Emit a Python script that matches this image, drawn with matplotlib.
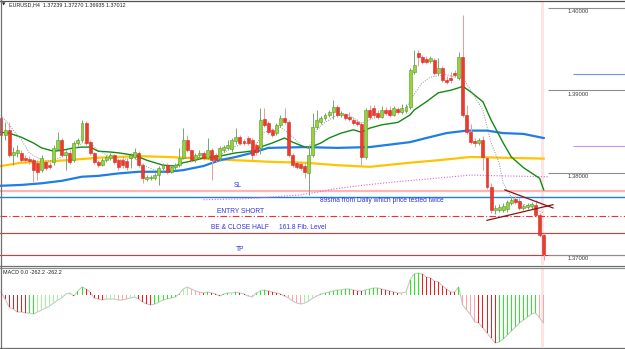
import matplotlib
matplotlib.use('Agg')
import matplotlib.pyplot as plt
import numpy as np

plt.rcParams['font.family'] = ['Liberation Sans', 'DejaVu Sans']

# EURUSD H4 candles
opens = [1.3866, 1.3846, 1.3852, 1.3821, 1.3824, 1.3824, 1.3818, 1.3817, 1.3815, 1.3812,
         1.3803, 1.3813, 1.3809, 1.3813, 1.3829, 1.3840, 1.3821, 1.3824, 1.3815, 1.3836,
         1.3840, 1.3860, 1.3837, 1.3824, 1.3813, 1.3809, 1.3815, 1.3818, 1.3821, 1.3815,
         1.3815, 1.3814, 1.3818, 1.3819, 1.3824, 1.3809, 1.3792, 1.3793, 1.3794, 1.3797,
         1.3806, 1.3809, 1.3801, 1.3807, 1.3809, 1.3818, 1.3840, 1.3827, 1.3816, 1.3821,
         1.3824, 1.3818, 1.3827, 1.3821, 1.3818, 1.3827, 1.3830, 1.3829, 1.3838, 1.3843,
         1.3838, 1.3842, 1.3840, 1.3834, 1.3830, 1.3865, 1.3860, 1.3852, 1.3848, 1.3858,
         1.3866, 1.3861, 1.3821, 1.3812, 1.3810, 1.3808, 1.3800, 1.3821, 1.3855, 1.3862,
         1.3866, 1.3870, 1.3874, 1.3880, 1.3870, 1.3871, 1.3867, 1.3864, 1.3862, 1.3859,
         1.3819, 1.3876, 1.3878, 1.3872, 1.3868, 1.3876, 1.3876, 1.3870, 1.3877, 1.3874,
         1.3875, 1.3880, 1.3922, 1.3945, 1.3940, 1.3938, 1.3935, 1.3937, 1.3921, 1.3927,
         1.3913, 1.3915, 1.3921, 1.3915, 1.3941, 1.3870, 1.3849, 1.3838, 1.3836, 1.3840,
         1.3818, 1.3782, 1.3754, 1.3755, 1.3755, 1.3756, 1.3763, 1.3768, 1.3765, 1.3757,
         1.3758, 1.3759, 1.3761, 1.3749, 1.37239]
closes = [1.3846, 1.3852, 1.3821, 1.3825, 1.3827, 1.3815, 1.3815, 1.3814, 1.3803, 1.3801,
          1.3818, 1.3806, 1.3807, 1.3830, 1.3840, 1.3821, 1.3825, 1.3813, 1.3836, 1.3840,
          1.3860, 1.3836, 1.3824, 1.3813, 1.3809, 1.3815, 1.3819, 1.3821, 1.3813, 1.3807,
          1.3809, 1.3807, 1.3821, 1.3825, 1.3809, 1.3793, 1.3795, 1.3795, 1.3797, 1.3806,
          1.3809, 1.3801, 1.3807, 1.3809, 1.3818, 1.3840, 1.3827, 1.3815, 1.3821, 1.3824,
          1.3818, 1.3827, 1.3815, 1.3815, 1.3830, 1.3831, 1.3834, 1.3840, 1.3843, 1.3836,
          1.3836, 1.3836, 1.3821, 1.3825, 1.3864, 1.3858, 1.3849, 1.3846, 1.3858, 1.3866,
          1.3861, 1.3821, 1.3809, 1.3807, 1.3806, 1.3801, 1.3821, 1.3855, 1.3864, 1.3866,
          1.3870, 1.3874, 1.3880, 1.3870, 1.3872, 1.3866, 1.3865, 1.3860, 1.3859, 1.3819,
          1.3876, 1.3868, 1.3870, 1.3868, 1.3876, 1.3872, 1.3870, 1.3878, 1.3874, 1.3878,
          1.3880, 1.3925, 1.3931, 1.3940, 1.3934, 1.3934, 1.3939, 1.3921, 1.3927, 1.3913,
          1.3910, 1.3912, 1.3919, 1.3940, 1.3870, 1.3849, 1.3837, 1.3836, 1.3840, 1.3819,
          1.3782, 1.3755, 1.3757, 1.3758, 1.3759, 1.3764, 1.3767, 1.3764, 1.3757, 1.3759,
          1.3761, 1.3762, 1.3749, 1.3724, 1.37012]
highs = [1.3874, 1.3861, 1.3861, 1.3831, 1.3834, 1.3827, 1.3821, 1.3820, 1.3818, 1.3815,
         1.3821, 1.3815, 1.3813, 1.3834, 1.3849, 1.3842, 1.3827, 1.3827, 1.3838, 1.3842,
         1.3864, 1.3863, 1.3840, 1.3825, 1.3815, 1.3818, 1.3821, 1.3824, 1.3822, 1.3818,
         1.3820, 1.3818, 1.3824, 1.3830, 1.3826, 1.3812, 1.3797, 1.3797, 1.3800, 1.3808,
         1.3812, 1.3812, 1.3809, 1.3812, 1.3830, 1.3854, 1.3846, 1.3828, 1.3824, 1.3827,
         1.3826, 1.3842, 1.3830, 1.3824, 1.3832, 1.3834, 1.3840, 1.3842, 1.3854, 1.3846,
         1.3841, 1.3844, 1.3842, 1.3836, 1.3878, 1.3878, 1.3863, 1.3854, 1.3860, 1.3870,
         1.3878, 1.3864, 1.3824, 1.3814, 1.3813, 1.3812, 1.3834, 1.3872, 1.3876, 1.3869,
         1.3872, 1.3876, 1.3888, 1.3882, 1.3875, 1.3872, 1.3874, 1.3866, 1.3865, 1.3861,
         1.3878, 1.3882, 1.3882, 1.3876, 1.3881, 1.3880, 1.3881, 1.3881, 1.3880, 1.3883,
         1.3883, 1.3927, 1.3949, 1.3949, 1.3943, 1.3942, 1.3942, 1.3939, 1.3939, 1.3930,
         1.3917, 1.3922, 1.3925, 1.3947, 1.3992, 1.3882, 1.3859, 1.3842, 1.3842, 1.3844,
         1.3819, 1.3787, 1.3761, 1.3762, 1.3763, 1.3767, 1.3772, 1.3772, 1.3769, 1.3762,
         1.3763, 1.3764, 1.3767, 1.3751, 1.37270]
lows = [1.3842, 1.3840, 1.3819, 1.3809, 1.3819, 1.3813, 1.3812, 1.3810, 1.3789, 1.3791,
        1.3801, 1.3803, 1.3804, 1.3809, 1.3827, 1.3819, 1.3803, 1.3810, 1.3813, 1.3834,
        1.3837, 1.3834, 1.3821, 1.3810, 1.3807, 1.3808, 1.3813, 1.3815, 1.3810, 1.3803,
        1.3806, 1.3803, 1.3806, 1.3817, 1.3807, 1.3787, 1.3790, 1.3791, 1.3791, 1.3785,
        1.3803, 1.3798, 1.3800, 1.3803, 1.3807, 1.3816, 1.3825, 1.3813, 1.3813, 1.3817,
        1.3815, 1.3816, 1.3791, 1.3813, 1.3814, 1.3825, 1.3827, 1.3825, 1.3835, 1.3834,
        1.3834, 1.3834, 1.3815, 1.3821, 1.3822, 1.3855, 1.3847, 1.3843, 1.3846, 1.3855,
        1.3859, 1.3819, 1.3807, 1.3804, 1.3803, 1.3793, 1.3773, 1.3819, 1.3853, 1.3859,
        1.3864, 1.3868, 1.3865, 1.3868, 1.3868, 1.3864, 1.3863, 1.3858, 1.3857, 1.3809,
        1.3817, 1.3865, 1.3868, 1.3865, 1.3866, 1.3870, 1.3868, 1.3869, 1.3871, 1.3871,
        1.3872, 1.3877, 1.3920, 1.3930, 1.3932, 1.3932, 1.3933, 1.3919, 1.3919, 1.3910,
        1.3908, 1.3909, 1.3916, 1.3913, 1.3868, 1.3847, 1.3835, 1.3831, 1.3834, 1.3803,
        1.3780, 1.3751, 1.3750, 1.3752, 1.3752, 1.3752, 1.3761, 1.3762, 1.3755, 1.3755,
        1.3756, 1.3756, 1.3746, 1.3722, 1.36935]

# moving averages, read at a few bars (bar index, price)
ma_green_x = [0, 2, 5, 8, 10, 13, 15, 18, 20, 22, 24, 27, 29, 33, 36, 38, 40, 43, 45, 48, 50, 53,
              55, 58, 60, 63, 64, 67, 70, 72, 75, 76, 79, 81, 84, 87, 89, 91, 94, 98, 101, 102,
              105, 108, 111, 113, 114, 116, 119, 121, 124, 126, 129, 133, 134]
ma_green_y = [1.3849, 1.3848, 1.3843, 1.3836, 1.3830, 1.3826, 1.3827, 1.3830, 1.3831, 1.3831,
              1.3826, 1.3825, 1.3824, 1.3821, 1.3815, 1.3812, 1.3809, 1.3808, 1.3812, 1.3815,
              1.3818, 1.3819, 1.3821, 1.3824, 1.3825, 1.3827, 1.3831, 1.3836, 1.3842, 1.3837,
              1.3831, 1.3830, 1.3836, 1.3842, 1.3848, 1.3852, 1.3849, 1.3854, 1.3858, 1.3861,
              1.3870, 1.3876, 1.3886, 1.3897, 1.3900, 1.3903, 1.3905, 1.3898, 1.3886, 1.3864,
              1.3836, 1.3819, 1.3806, 1.3793, 1.3779]
ma_fast_x = [0, 2, 5, 7, 10, 12, 15, 17, 20, 22, 24, 27, 29, 33, 35, 38, 40, 43, 45, 48, 50, 54,
             57, 60, 63, 65, 67, 69, 71, 74, 76, 78, 80, 83, 86, 89, 93, 96, 100, 101, 104, 106,
             110, 112, 114, 116, 119, 121, 123, 124, 126, 128, 131, 134]
ma_fast_y = [1.3870, 1.3858, 1.3840, 1.3824, 1.3815, 1.3814, 1.3819, 1.3824, 1.3836, 1.3836,
             1.3827, 1.3819, 1.3815, 1.3818, 1.3809, 1.3803, 1.3801, 1.3806, 1.3818, 1.3818,
             1.3819, 1.3821, 1.3830, 1.3836, 1.3834, 1.3849, 1.3852, 1.3855, 1.3848, 1.3834,
             1.3830, 1.3852, 1.3861, 1.3870, 1.3870, 1.3860, 1.3868, 1.3872, 1.3876, 1.3888,
             1.3909, 1.3916, 1.3919, 1.3916, 1.3915, 1.3900, 1.3876, 1.3836, 1.3812, 1.3787,
             1.3770, 1.3763, 1.3758, 1.3751]
ma_blue_x = [0, 5, 10, 15, 20, 24, 29, 34, 41, 45, 50, 54, 58, 62, 66, 75, 83, 91, 96, 101, 105,
             110, 115, 120, 124, 129, 134]
ma_blue_y = [1.3784, 1.3785, 1.3787, 1.3790, 1.3795, 1.3796, 1.3799, 1.3801, 1.3801, 1.3803,
             1.3808, 1.3815, 1.3819, 1.3824, 1.3830, 1.3831, 1.3830, 1.3831, 1.3834, 1.3837,
             1.3842, 1.3848, 1.3851, 1.3851, 1.3848, 1.3847, 1.3842]
ma_gold_x = [0, 5, 10, 16, 24, 34, 41, 50, 58, 67, 75, 83, 91, 101, 108, 116, 124, 134]
ma_gold_y = [1.3808, 1.3812, 1.3813, 1.3815, 1.3818, 1.3820, 1.3819, 1.3817, 1.3815, 1.3813,
             1.3812, 1.3809, 1.3807, 1.3812, 1.3815, 1.3819, 1.3818, 1.3817]
ma_pink_x = [50, 59, 66, 74, 79, 82, 90, 98, 107, 116, 124, 135]
ma_pink_y = [1.3767, 1.3768, 1.3770, 1.3773, 1.3777, 1.3780, 1.3785, 1.3789, 1.3793, 1.3797,
             1.3796, 1.3795]

# drawn levels
sl_level = 1.3778
daily_sma89 = 1.3770
entry_level = 1.3747
be_level = 1.3727
tp_level = 1.3700
side_levels = [1.3920, 1.3832]
price_ticks = [1.40, 1.39, 1.38, 1.37]
tri_upper = ([124.4, 136.3], [1.3779, 1.3757])
tri_lower = ([120.0, 136.3], [1.3742, 1.3761])

# MACD histogram (same value drawn as line), colour code per bar
macd_vals = [3, -4, -12, -14, -17, -17, -18, -18, -19, -17, -15, -13, -11, -8, -5, -3, 1, 2, -1, 4,
             8, 6, 3, -3, -4, -5, -4, -4, -4, -5, -5, -4, -3, -2, -4, -7, -9, -10, -9, -7,
             -5, -4, -3, -2, 1, 6, 8, 6, 4, 3, 2, 3,
             2, 1, -1, 1, 2, 2, 3, 2, 1, -1, -2,
             2, 4, 5, 4, 3, 2, 1, -1,
             -3, -6, -8, -9, -8, -6, -3, -1,
             1, 2, 3, 4, 5, 5, 6, 6, 5, 4, 4, 5, 6, 7, 7, 6, 5, 4, 3, 2,
             2, 3, 15, 21, 22, 21, 18, 17, 14, 13, 9, 6, 3, 3, 8, -10, -15, -20, -27, -28,
             -33, -38, -43, -48, -47, -44, -40, -36, -32, -28, -25, -22, -19, -18, -23, -28]
macd_cols = ('p' + 'rrrrrr' + 'gg' + 'lllllllll' + 'r' + 'gg' + 'rrrrr' + 'lll' + 'ppp' + 'll'
             + 'rrrr' + 'ggggggg' + 'll' + 'ppp' + 'r' + 'g'
             + 'rrrgglgrrpp' + 'gggrrrrr' + 'ppppllll' + 'ggggggggrrrggggrrrrr'
             + 'p' + 'l' + 'ggg' + 'rrrrrrrrr' + 'g' + 'pppp' + 'rrrrr' + 'gggggggggg' + 'pp')

W, H = 625, 349
step = 4.05   # pixels per bar


def box(x0, y0, x1, y1):
    return [x0 / W, 1 - y1 / H, (x1 - x0) / W, (y1 - y0) / H]


fig = plt.figure(figsize=(6.25, 3.49), dpi=100)
fig.patch.set_facecolor('white')
ax = fig.add_axes(box(0, 2, 625, 265))
mx = fig.add_axes(box(0, 268, 625, 347))
for a in (ax, mx):
    a.set_xlim(-1 / step, (W - 1) / step)
    a.set_xticks([])
    a.set_yticks([])
    for s in a.spines.values():
        s.set_visible(False)

ax.set_ylim(1.40097 - 0.0001215 * 265, 1.40097 - 0.0001215 * 2)
mx.set_ylim(-52, 27)

o = np.array(opens)
c = np.array(closes)
h = np.array(highs)
l = np.array(lows)
idx = np.arange(len(o))
up = c >= o

# vertical time line
for a in (ax, mx):
    a.axvline(133.6, color='#ffe4e4', lw=2.2, zorder=0)

# levels
ax.axhline(sl_level, color='#ffb4b4', lw=1.6, zorder=1)
ax.axhline(daily_sma89, color='#1e7ee6', lw=1.0, zorder=1)
ax.axhline(entry_level, color='#ee3030', lw=0.8, ls=(0, (6, 2, 1, 2)), zorder=1)
ax.axhline(be_level, color='#ee3030', lw=0.8, zorder=1)
ax.axhline(tp_level, color='#ee3030', lw=0.8, zorder=1)
ax.hlines(side_levels, 141.2, (W - 1) / step, colors=['#7090f0', '#d090f0'], lw=0.8)
ax.hlines(price_ticks, (548 - 1) / step, (W - 1) / step, colors='#8a9090', lw=0.8, zorder=1)
for p in price_ticks:
    ax.text(140.0, p - 4 * 0.0001215, '%.5f' % p, fontsize=4.2, color='#404040',
            va='center', ha='left')

# moving averages
ax.plot(ma_gold_x, ma_gold_y, color='#ffc400', lw=1.6, zorder=2)
ax.plot(ma_blue_x, ma_blue_y, color='#1e7ee6', lw=1.6, zorder=2)
ax.plot(ma_pink_x, ma_pink_y, color='#e060e0', lw=0.8, ls=(0, (1, 1.5)), zorder=2)
ax.plot(ma_green_x, ma_green_y, color='#138a13', lw=1.0, zorder=2)
ax.plot(ma_fast_x, ma_fast_y, color='#909090', lw=0.7, ls=(0, (1, 1.5)), zorder=2)

# candles
wick_cols = np.where(up, '#7aa87a', '#f09a9a')
ax.vlines(idx, l, h, colors=wick_cols, lw=0.72, zorder=3)
body = np.maximum(np.abs(c - o), 0.00003)
ax.bar(idx, body, bottom=np.minimum(o, c), width=0.72,
       color=np.where(up, '#9bd13a', '#ea3b2c'),
       edgecolor=np.where(up, '#4f9a2a', '#d42a20'), lw=0.4, zorder=4)

# triangle
ax.plot(*tri_upper, color='#8b1414', lw=0.9, zorder=5)
ax.plot(*tri_lower, color='#8b1414', lw=0.9, zorder=5)

# annotations
tc = '#3333dd'
fs = 4.8
ax.text(58.5, 1.3784, 'SL', fontsize=fs, color=tc, ha='center', va='center')
ax.text(78.8, 1.3766, '89sma from Daily which price tested twice', fontsize=fs, color=tc,
        ha='left', va='center')
ax.text(53.3, 1.3753, 'ENTRY SHORT', fontsize=fs, color=tc, ha='left', va='center')
ax.text(51.9, 1.3733, 'BE & CLOSE HALF', fontsize=fs, color=tc, ha='left', va='center')
ax.text(68.6, 1.3733, '161.8 Fib. Level', fontsize=fs, color=tc, ha='left', va='center')
ax.text(59.0, 1.3707, 'TP', fontsize=fs, color=tc, ha='center', va='center')

# MACD panel
cmap = {'g': '#22ee22', 'l': '#a0f59a', 'r': '#f01c1c', 'p': '#ffa4a4'}
mv = np.array(macd_vals)
mx.plot(idx, mv, color='#c8c8c8', lw=0.8, zorder=2)
mx.bar(idx, mv, width=1.0 / step, color=[cmap[k] for k in macd_cols], lw=0,
       antialiased=False, zorder=3)

fig.text(2 / W, 1 - 5 / H, '\u25bc', fontsize=3.2, color='#202020', va='center',
         family=['DejaVu Sans'])
fig.text(9 / W, 1 - 5 / H, 'EURUSD,H4  1.37239 1.37270 1.36935 1.37012', fontsize=3.9,
         color='#202020', va='center')
fig.text(3 / W, 1 - 272 / H, 'MACD 0.0 -262.2 -262.2', fontsize=3.9, color='#202020',
         va='center')

# window frame
fl = dict(transform=fig.transFigure, lw=0.9)
fig.add_artist(plt.Line2D([0, 1], [1 - 0.5 / H, 1 - 0.5 / H], color='#505050', **fl))
fig.add_artist(plt.Line2D([0, 1], [1 - 265.5 / H, 1 - 265.5 / H], color='#707070', **fl))
fig.add_artist(plt.Line2D([0, 1], [1 - 267.5 / H, 1 - 267.5 / H], color='#909090', **fl))
fig.add_artist(plt.Line2D([0, 1], [1 - 347.5 / H, 1 - 347.5 / H], color='#707070', **fl))
fig.add_artist(plt.Line2D([0.5 / W, 0.5 / W], [0, 1], color='#707070', **fl))

fig.savefig('out.png', dpi=100)
